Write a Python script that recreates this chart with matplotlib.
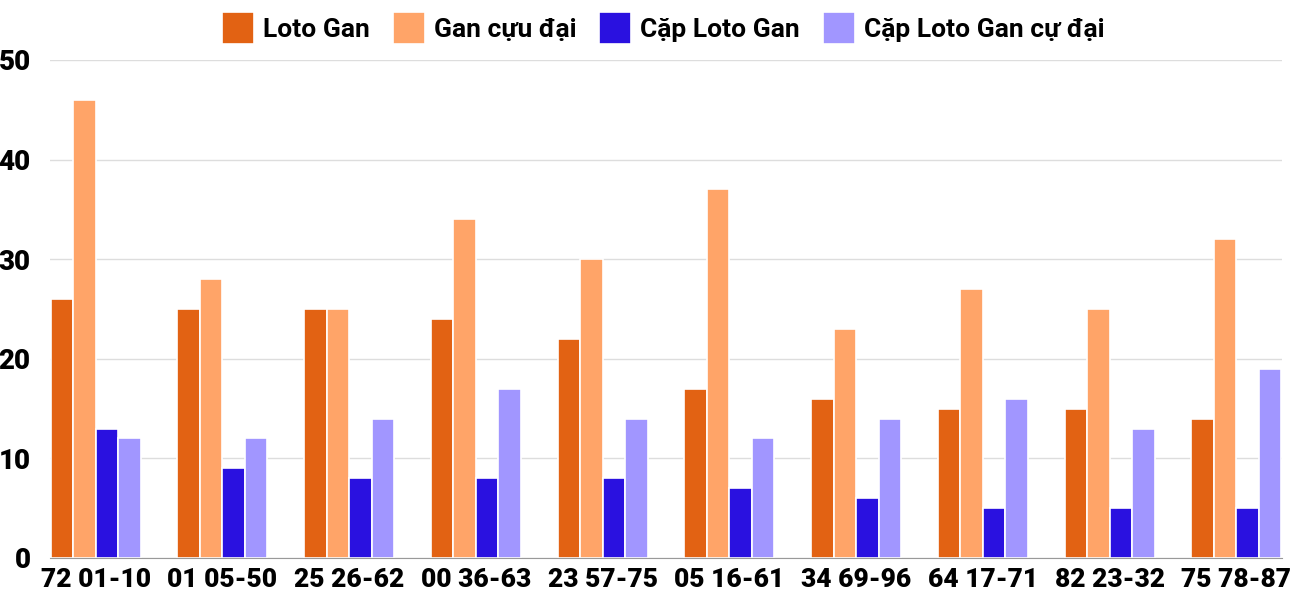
import matplotlib.pyplot as plt
import numpy as np

plt.rcParams['font.family'] = ['Roboto', 'DejaVu Sans']

# Data
categories = ['72 01-10', '01 05-50', '25 26-62', '00 36-63', '23 57-75',
              '05 16-61', '34 69-96', '64 17-71', '82 23-32', '75 78-87']
loto_gan = [26, 25, 25, 24, 22, 17, 16, 15, 15, 14]
gan_cuc_dai = [46, 28, 25, 34, 30, 37, 23, 27, 25, 32]
cap_loto_gan = [13, 9, 8, 8, 8, 7, 6, 5, 5, 5]
cap_cuc_dai = [12, 12, 14, 17, 14, 12, 14, 16, 13, 19]

series = [
    ('Loto Gan', loto_gan, '#E26213'),
    ('Gan cựu đại', gan_cuc_dai, '#FFA468'),
    ('Cặp Loto Gan', cap_loto_gan, '#2A11E0'),
    ('Cặp Loto Gan cự đại', cap_cuc_dai, '#A196FF'),
]

fig = plt.figure(figsize=(13, 6), dpi=100)
ax = fig.add_axes([0.0385, 0.07, 0.9477, 0.83])

x = np.arange(len(categories))
w = 0.1775
for i, (name, vals, col) in enumerate(series):
    ax.bar(x + (i - 1.5) * w, vals, width=w, color=col, edgecolor='white',
           linewidth=1.2, label=name, zorder=3)

ax.set_xlim(-0.36, len(categories) - 1 + 0.36)
ax.set_ylim(0, 50)
ax.set_yticks([0, 10, 20, 30, 40, 50])
ax.yaxis.grid(True, color='#dddddd', linewidth=1, zorder=0)
ax.set_xticks(x)
ax.set_xticklabels(categories, fontsize=19, fontweight='heavy')
for lab in ax.get_yticklabels():
    lab.set_fontsize(20)
    lab.set_fontweight('heavy')
ax.tick_params(axis='both', length=0)
ax.tick_params(axis='y', pad=14)
ax.tick_params(axis='x', pad=7)

for s in ['top', 'right', 'left']:
    ax.spines[s].set_visible(False)
ax.spines['bottom'].set_color('#999999')
ax.spines['bottom'].set_zorder(4)

ax.legend(loc='center', bbox_to_anchor=(0.4976, 1.064), ncol=4,
          frameon=False, prop={'weight': 'bold', 'size': 19},
          handlelength=1.21, handleheight=1.49, handletextpad=0.34,
          columnspacing=0.87, borderpad=0)

fig.savefig('out.png', dpi=100)
